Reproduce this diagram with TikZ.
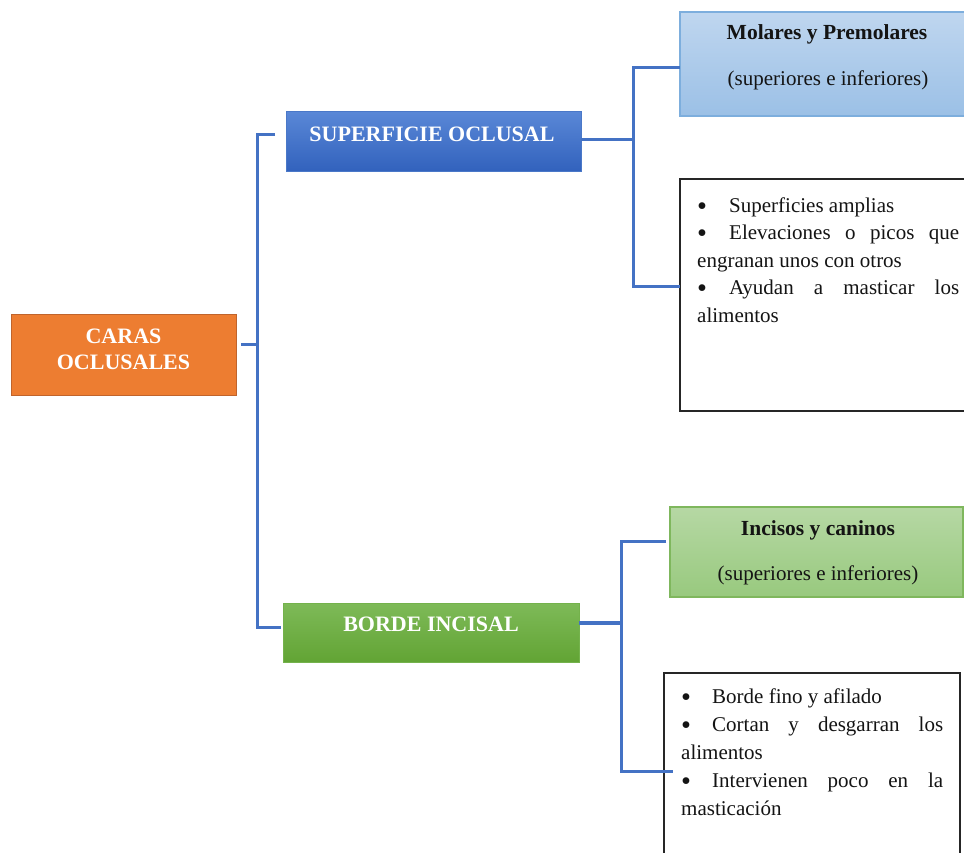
\documentclass[tikz,border=0pt]{standalone}
\usepackage{fontspec}
\setmainfont{Liberation Serif}
\definecolor{orangeF}{HTML}{ED7D31}
\definecolor{orangeD}{HTML}{C0642C}
\definecolor{supTop}{HTML}{5A88D7}
\definecolor{supBot}{HTML}{3262BD}
\definecolor{supD}{HTML}{4A78C8}
\definecolor{grTop}{HTML}{7EBA58}
\definecolor{grBot}{HTML}{62A434}
\definecolor{grD}{HTML}{74B24C}
\definecolor{molTop}{HTML}{BFD6EF}
\definecolor{molBot}{HTML}{9BC0E6}
\definecolor{molD}{HTML}{7DAEDD}
\definecolor{incTop}{HTML}{B6D8A4}
\definecolor{incBot}{HTML}{98C97E}
\definecolor{incD}{HTML}{7FB75D}
\definecolor{connC}{HTML}{4472C4}
\definecolor{txtC}{HTML}{141414}
\newcommand{\mybul}{\raisebox{-0.15em}{\scalebox{1.35}{\textbullet}}}
\begin{document}
\begin{tikzpicture}[x=1pt,y=-1pt,
  boxbase/.style={anchor=north west,inner sep=0pt,outer sep=0pt},
  conn/.style={draw=connC,line width=3pt},
  headtxt/.style={anchor=base,inner sep=0pt,text=white,font=\fontsize{22}{26}\selectfont\bfseries},
  subtxt/.style={anchor=base,inner sep=0pt,text=txtC,font=\fontsize{21}{26}\selectfont},
  subbold/.style={anchor=base,inner sep=0pt,text=txtC,font=\fontsize{21.5}{26}\selectfont\bfseries},
  listtxt/.style={anchor=base west,inner sep=0pt,text=txtC}
]
\useasboundingbox (0,0) rectangle (964,852);
\clip (0,0) rectangle (964,852);
\fill[white] (0,0) rectangle (964,852);

% boxes
\node[boxbase,fill=orangeF,draw=orangeD,line width=1pt,minimum width=225pt,minimum height=81pt] (caras) at (11,314) {};
\node[boxbase,top color=supTop,bottom color=supBot,draw=supD,line width=0.8pt,minimum width=295pt,minimum height=60pt] (sup) at (286,111) {};
\node[boxbase,top color=grTop,bottom color=grBot,draw=grD,line width=0.8pt,minimum width=296pt,minimum height=59pt] (bord) at (283,603) {};
\node[boxbase,top color=molTop,bottom color=molBot,draw=molD,line width=1.2pt,minimum width=295pt,minimum height=104pt] (mol) at (680,12) {};
\node[boxbase,fill=white,draw=black!85,line width=1.6pt,minimum width=300pt,minimum height=232pt] (b1) at (680,179) {};
\node[boxbase,top color=incTop,bottom color=incBot,draw=incD,line width=1.2pt,minimum width=293pt,minimum height=90pt] (inc) at (670,507) {};
\node[boxbase,fill=white,draw=black!85,line width=1.6pt,minimum width=296pt,minimum height=200pt] (b2) at (664,673) {};

% texts
\node[headtxt] (tcaras1) at (123.5,343) {CARAS};
\node[headtxt] (tcaras2) at (123.5,369.5) {OCLUSALES};
\node[headtxt] (tsup) at (432,141.5) {SUPERFICIE OCLUSAL};
\node[headtxt] (tbord) at (431,631.5) {BORDE INCISAL};
\node[subbold] (tmol1) at (827,39) {Molares y Premolares};
\node[subtxt] (tmol2) at (828,85) {(superiores e inferiores)};
\node[subbold] (tinc1) at (818,535) {Incisos y caninos};
\node[subtxt] (tinc2) at (818,580) {(superiores e inferiores)};

\node[listtxt] (tl1) at (697,212) {\parbox[t]{262pt}{\fontsize{21}{27.5}\selectfont\setlength{\parindent}{0pt}%
\makebox[32pt][l]{\mybul}Superficies amplias\\
\makebox[262pt][s]{\makebox[32pt][l]{\mybul}Elevaciones o picos que}\\
engranan unos con otros\\
\makebox[262pt][s]{\makebox[32pt][l]{\mybul}Ayudan a masticar los}\\
alimentos}};

\node[listtxt] (tl2) at (681,703) {\parbox[t]{262pt}{\fontsize{21}{28}\selectfont\setlength{\parindent}{0pt}%
\makebox[31pt][l]{\mybul}Borde fino y afilado\\
\makebox[262pt][s]{\makebox[31pt][l]{\mybul}Cortan y desgarran los}\\
alimentos\\
\makebox[262pt][s]{\makebox[31pt][l]{\mybul}Intervienen poco en la}\\
masticación}};

% connector coordinates
\coordinate (c0) at (241,344);
\coordinate (j0) at (257,344);
\coordinate (jt) at (257,134);
\coordinate (et) at (275,134);
\coordinate (jb) at (257,627);
\coordinate (eb) at (281,627);
\coordinate (s0) at (581,139);
\coordinate (s1) at (633,139);
\coordinate (s2) at (633,67);
\coordinate (s3) at (633,286);
\coordinate (m0) at (680,67);
\coordinate (m1) at (680,286);
\coordinate (r0) at (579,623);
\coordinate (r1) at (621.5,623);
\coordinate (r2) at (621.5,541);
\coordinate (r3) at (621.5,771.5);
\coordinate (i0) at (666,541);
\coordinate (i1) at (673,771.5);

% connectors
\draw[conn] (c0) -- (j0);
\draw[conn] (et) -- (jt) -- (jb) -- (eb);
\draw[conn] (s0) -- (s1);
\draw[conn] (m0) -- (s2) -- (s3) -- (m1);
\draw[conn,line width=4.5pt] (r0) -- (r1);
\draw[conn] (i0) -- (r2) -- (r3) -- (i1);
\end{tikzpicture}
\end{document}
